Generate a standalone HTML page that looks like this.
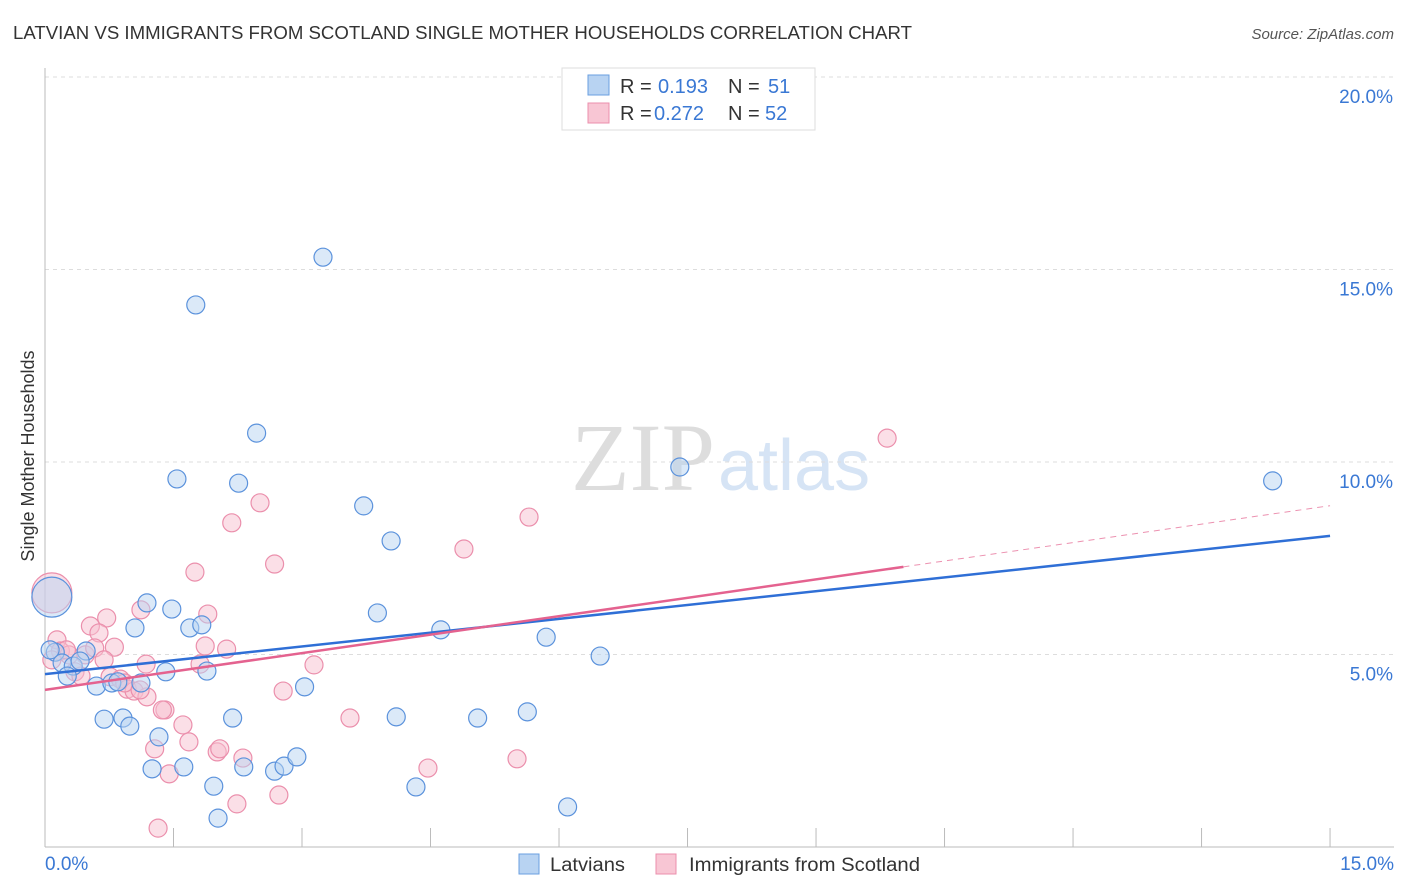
<!DOCTYPE html>
<html><head><meta charset="utf-8"><style>
body{margin:0;background:#fff;font-family:"Liberation Sans",sans-serif;}
svg{display:block}
</style></head><body>
<svg id="chart" width="1406" height="892">
<text x="13" y="39" font-size="18" fill="#333" textLength="899" lengthAdjust="spacingAndGlyphs">LATVIAN VS IMMIGRANTS FROM SCOTLAND SINGLE MOTHER HOUSEHOLDS CORRELATION CHART</text>
<text x="1394" y="39" font-size="15" fill="#555" font-style="italic" text-anchor="end">Source: ZipAtlas.com</text>
<text x="715" y="490" font-size="96" fill="#ddd" text-anchor="end" font-family="Liberation Serif,serif">ZIP</text>
<text x="718" y="490" font-size="72" fill="#d6e4f5">atlas</text>
<g id="grid"></g>
<g id="axes"></g>
<g id="pts"></g>
<g id="trends"></g>
<text x="34" y="456" font-size="18" fill="#333" text-anchor="middle" transform="rotate(-90 34 456)">Single Mother Households</text>
<g>
<rect x="562" y="68" width="253" height="62" fill="#fff" stroke="#ddd"/>
<rect x="588" y="75" width="21" height="20" fill="#b8d3f2" stroke="#6a9fe0"/>
<rect x="588" y="103" width="21" height="20" fill="#f8c6d4" stroke="#eb8fac"/>
<text x="620" y="93" font-size="20" fill="#333">R = </text><text x="658" y="93" font-size="20" fill="#3a78d4">0.193</text>
<text x="728" y="93" font-size="20" fill="#333">N = </text><text x="768" y="93" font-size="20" fill="#3a78d4">51</text>
<text x="620" y="120" font-size="20" fill="#333">R = </text><text x="654" y="120" font-size="20" fill="#3a78d4">0.272</text>
<text x="728" y="120" font-size="20" fill="#333">N = </text><text x="765" y="120" font-size="20" fill="#3a78d4">52</text>
</g>
<g>
<rect x="519" y="854" width="20" height="20" fill="#b8d3f2" stroke="#6a9fe0"/>
<text x="550" y="871" font-size="19" fill="#333" textLength="75" lengthAdjust="spacingAndGlyphs">Latvians</text>
<rect x="656" y="854" width="20" height="20" fill="#f8c6d4" stroke="#eb8fac"/>
<text x="689" y="871" font-size="19" fill="#333" textLength="231" lengthAdjust="spacingAndGlyphs">Immigrants from Scotland</text>
</g>
</svg>
<script>
const blueX=[0.08,1.76,2.47,1.54,2.26,3.72,4.04,7.41,14.33,1.19,1.48,3.88,1.05,1.69,1.83,4.62,5.85,6.48,0.12,0.48,0.20,0.33,0.26,1.41,1.89,0.60,0.78,0.85,1.12,3.03,0.69,0.91,0.99,2.19,4.10,5.05,5.63,1.33,1.25,1.62,2.32,2.68,2.79,2.94,1.97,4.33,2.02,6.10,0.41,0.06,3.245];
const blueY=[6.49,14.08,10.75,9.56,9.45,8.86,7.95,9.87,9.51,6.34,6.18,6.08,5.69,5.69,5.77,5.64,5.45,4.96,5.06,5.09,4.78,4.70,4.44,4.55,4.57,4.18,4.26,4.29,4.26,4.16,3.32,3.35,3.14,3.35,3.38,3.35,3.51,2.86,2.03,2.08,2.08,1.97,2.10,2.34,1.58,1.56,0.75,1.04,4.83,5.12,15.32];
const pinkX=[0.08,9.83,2.51,2.18,5.65,4.89,2.68,1.75,1.12,1.90,0.72,0.53,0.63,0.14,0.81,1.87,2.12,0.18,0.47,0.28,1.18,1.81,3.14,0.35,0.42,0.76,0.88,0.96,1.04,1.19,2.78,1.40,1.37,1.61,1.68,1.28,2.01,2.04,2.31,3.56,5.51,4.47,1.45,2.73,2.24,1.32,0.93,0.08,0.25,0.58,1.11,0.69];
const pinkY=[6.60,10.62,8.94,8.42,8.57,7.74,7.35,7.14,6.16,6.05,5.95,5.74,5.56,5.38,5.19,5.22,5.14,5.09,4.99,4.99,4.75,4.75,4.73,4.55,4.44,4.42,4.36,4.10,4.05,3.90,4.05,3.56,3.56,3.17,2.73,2.55,2.47,2.55,2.31,3.35,2.29,2.05,1.90,1.35,1.12,0.49,4.26,4.86,5.12,5.17,4.08,4.86];
const bigIdx=[0];
const yTicks=[5,10,15,20];
const yTickLabels=["5.0%","10.0%","15.0%","20.0%"];
const xTicks=[0,1.5,3,4.5,6,7.5,9,10.5,12,13.5,15];
const blueTrend=[4.49,8.08];
const pinkTrend=[4.08,0.319,10.02];
const NS="http://www.w3.org/2000/svg";
const sx=v=>45+v*85.67, sy=v=>847-v*38.5;
function mk(tag,attrs,parent){const e=document.createElementNS(NS,tag);for(const k in attrs)e.setAttribute(k,attrs[k]);parent.appendChild(e);return e;}
const grid=document.getElementById('grid'),axes=document.getElementById('axes'),pts=document.getElementById('pts'),tr=document.getElementById('trends');
yTicks.forEach((t,i)=>{
 const l=mk('line',{x1:45,x2:1394,y1:sy(t),y2:sy(t),stroke:'#ddd','stroke-dasharray':'4,4'},grid);
 
 
 const tx=mk('text',{x:1393,y:sy(t)+26,'font-size':19,fill:'#3a78d4','text-anchor':'end'},grid);
 tx.textContent=yTickLabels[i];
 
 
});
const ax=mk('line',{x1:45,x2:45,y1:68,y2:847,stroke:'#bbb'},axes);


const bx=mk('line',{x1:45,x2:1394,y1:847,y2:847,stroke:'#bbb'},axes);


xTicks.forEach(t=>{
 const l=mk('line',{x1:sx(t),x2:sx(t),y1:828,y2:847,stroke:'#bbb'},axes);
 
 
});
const xl0=mk('text',{x:45,y:870,'font-size':19,fill:'#3a78d4'},axes);xl0.textContent='0.0%';


const xl1=mk('text',{x:1394,y:870,'font-size':19,fill:'#3a78d4','text-anchor':'end'},axes);xl1.textContent='15.0%';


function draw(X,Y,fill,stroke,name){
 X.forEach((x,i)=>{
  const c=mk('circle',{cx:sx(x),cy:sy(Y[i]),r:bigIdx.includes(i)?20:9,fill:fill,'fill-opacity':0.5,stroke:stroke,'stroke-width':1.2},pts);
  
  
 });
}
draw(pinkX,pinkY,'#f8c0d0','#eb8fac','scotland-point');
draw(blueX,blueY,'#b8d3f2','#5b92dc','latvian-point');
const bl=mk('line',{x1:sx(0),y1:sy(blueTrend[0]),x2:sx(15),y2:sy(blueTrend[1]),stroke:'#2f6fd6','stroke-width':2.5},tr);


const pe=pinkTrend[2];
const pl=mk('line',{x1:sx(0),y1:sy(pinkTrend[0]),x2:sx(pe),y2:sy(pinkTrend[0]+pinkTrend[1]*pe),stroke:'#e4628f','stroke-width':2.5},tr);


const pd=mk('line',{x1:sx(pe),y1:sy(pinkTrend[0]+pinkTrend[1]*pe),x2:sx(15),y2:sy(pinkTrend[0]+pinkTrend[1]*15),stroke:'#e4628f','stroke-width':1,'stroke-dasharray':'6,5','stroke-opacity':0.7},tr);


</script>
</body></html>
